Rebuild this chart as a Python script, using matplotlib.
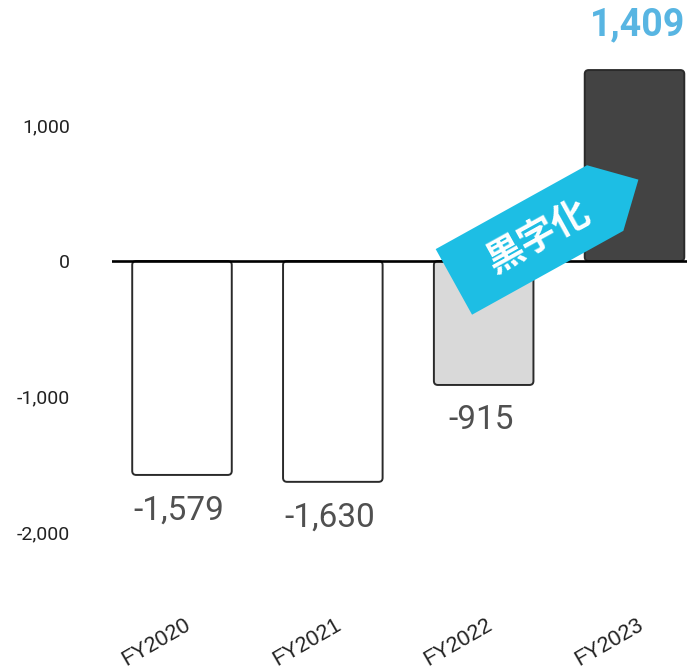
import numpy as np
import matplotlib.pyplot as plt
from matplotlib.patches import FancyBboxPatch, Polygon
from matplotlib.transforms import Affine2D, ScaledTranslation

plt.rcParams['font.family'] = ['Roboto', 'DejaVu Sans']

years = ['FY2020', 'FY2021', 'FY2022', 'FY2023']
profit = [-1579, -1630, -915, 1409]
value_labels = ['-1,579', '-1,630', '-915', '1,409']
bar_colors = ['white', 'white', '#d9d9d9', '#434343']
yticks = [1000, 0, -1000, -2000]
ytick_labels = ['1,000', '0', '-1,000', '-2,000']
badge_text = '黒字化'

W, H = 687, 670
fig = plt.figure(figsize=(W / 100, H / 100), dpi=100)
ax = fig.add_axes([112 / W, 70 / H, 575 / W, 600 / H])

xlim = (-0.464, 3.348)
ylim = (-2502, 1926)
sx = 575 / (xlim[1] - xlim[0])   # px per x unit
sy = 600 / (ylim[1] - ylim[0])   # px per y unit

x = np.arange(len(years))
bars = ax.bar(x, profit, width=0.66, color=bar_colors,
              edgecolor='#2a2a2a', linewidth=1.4)

# swap the plain rectangles for ones with softly rounded corners
for rect in bars:
    x0, y0 = rect.get_xy()
    w, h = rect.get_width(), rect.get_height()
    y0, h = min(y0, y0 + h), abs(h)
    box = FancyBboxPatch((x0, y0), w, h,
                         boxstyle=f'round,pad=0,rounding_size={4 / sx}',
                         mutation_aspect=sx / sy,
                         fc=rect.get_facecolor(), ec=rect.get_edgecolor(),
                         lw=rect.get_linewidth(), zorder=2)
    ax.add_patch(box)
    rect.remove()

ax.axhline(0, color='black', lw=1.9, zorder=3)

for xi, v, s in zip(x, profit, value_labels):
    if v < 0:
        ax.annotate(s, (xi, v), xytext=(-2, -14), textcoords='offset points',
                    ha='center', va='top', fontsize=24, color='#505050')
    else:
        ax.annotate(s, (xi, v), xytext=(2, 19), textcoords='offset points',
                    ha='center', va='bottom', fontsize=27, fontweight='bold',
                    color='#58b5e2')

# "黒字化" badge, a tilted tag pointing up to FY2023
cx, cy, ang = 2.304, 155, 29
shape = [(-86.5, -37.5), (86.5, -37.5), (124.5, 0), (86.5, 37.5), (-86.5, 37.5)]
badge_tr = Affine2D().rotate_deg(ang) + ScaledTranslation(cx, cy, ax.transData)
ax.add_patch(Polygon(shape, closed=True, transform=badge_tr,
                     fc='#1dbee4', ec='none', zorder=5))
ax.annotate(badge_text, (cx, cy), xytext=(9, 3), textcoords='offset pixels',
            rotation=ang, rotation_mode='anchor', ha='center', va='center',
            family=['Noto Sans CJK JP', 'DejaVu Sans'], fontweight='bold',
            fontsize=27, color='white', zorder=6)

ax.set_xlim(*xlim)
ax.set_ylim(*ylim)

ax.set_yticks(yticks, ytick_labels)
ax.tick_params(axis='y', length=0, pad=30, labelsize=14, labelcolor='#222222')

ax.set_xticks(x + 7 / sx, years, rotation=30, ha='right', va='center',
              rotation_mode='anchor')
ax.tick_params(axis='x', length=0, pad=17, labelsize=15.5, labelcolor='#222222')
for t in ax.get_xticklabels():
    t.set_family(['Liberation Sans'])

for sp in ax.spines.values():
    sp.set_visible(False)

fig.savefig('out.png', dpi=100)
